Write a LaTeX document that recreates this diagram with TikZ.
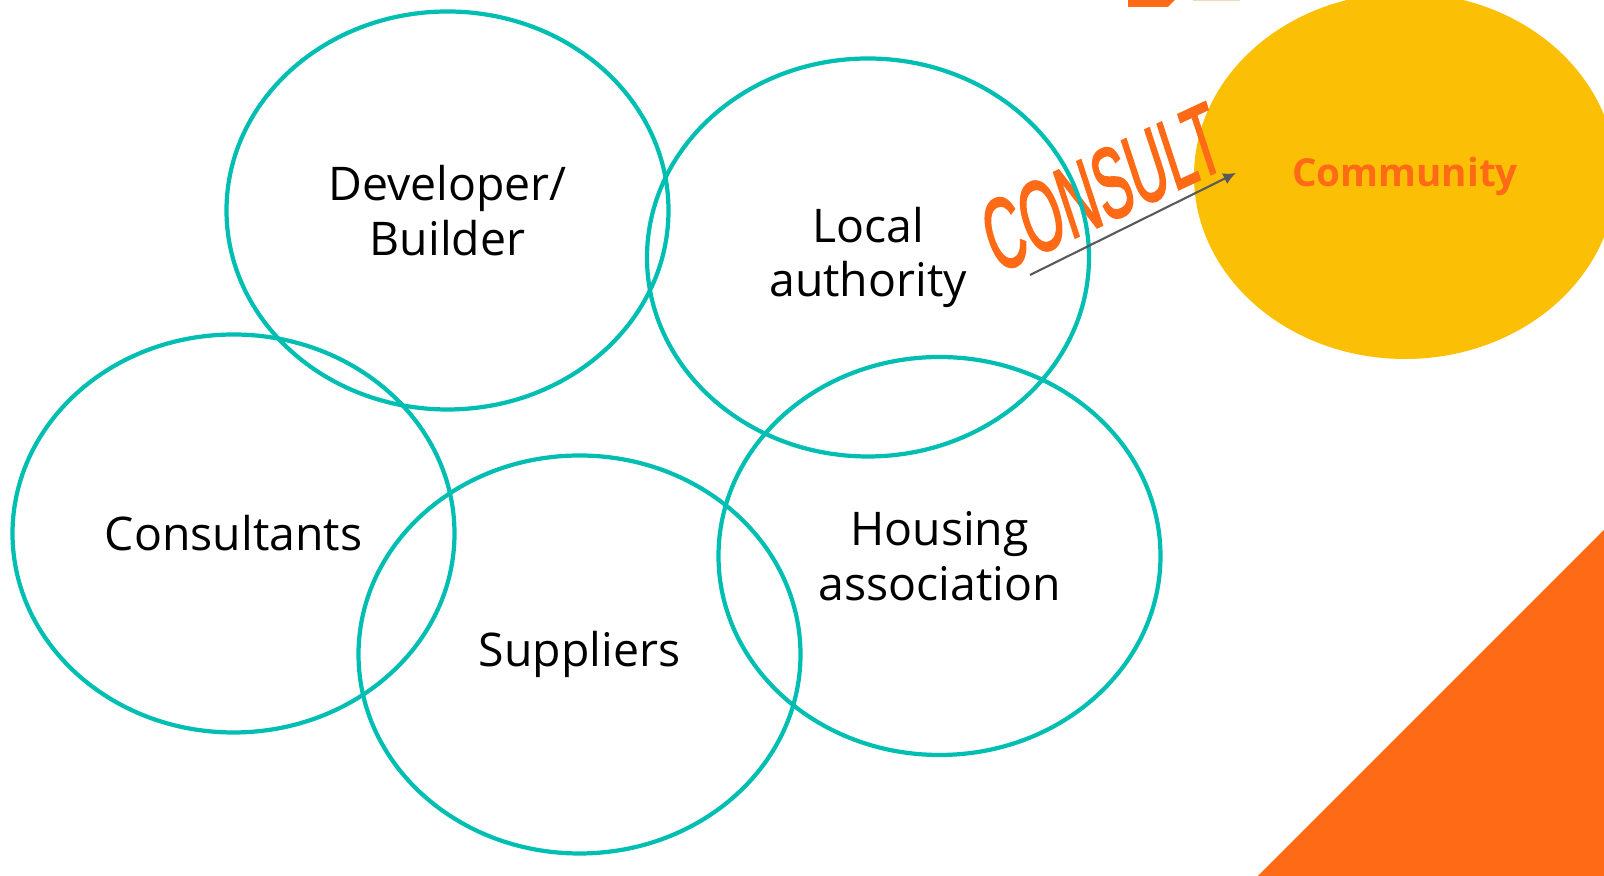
\documentclass[tikz,border=0pt]{standalone}
\usepackage{fontspec}
\setmainfont{Open Sans}
\newfontfamily\consultfont[FakeBold=2.5]{Liberation Sans}
\usetikzlibrary{positioning}
\usetikzlibrary{arrows.meta}
\usetikzlibrary{shapes}
\definecolor{tealline}{RGB}{0,190,178}
\definecolor{sunyellow}{RGB}{251,192,6}
\definecolor{flameorange}{RGB}{255,106,22}
\definecolor{arrowgray}{RGB}{90,90,90}
\definecolor{paleband}{RGB}{236,218,186}

\begin{document}
\begin{tikzpicture}[on grid,
      party style/.style={ellipse,draw=tealline,line width=1.2pt,
        minimum width=4.42cm,minimum height=3.98cm,inner sep=0pt,
        align=center,font=\fontsize{13.2}{15.6}\selectfont},
      crowd style/.style={ellipse,fill=sunyellow,minimum width=4.22cm,
        minimum height=3.66cm,inner sep=0pt,text=flameorange,
        font=\fontsize{11}{13}\selectfont\bfseries}
      ]
      \useasboundingbox (0,0) rectangle (16.04,-8.76);
      \clip (0,0) rectangle (16.04,-8.76);

      % corner pieces
      \fill[flameorange] (12.58,-8.76) -- (16.04,-5.30) -- (16.04,-8.76) -- cycle;
      \fill[flameorange] (11.28,0.01) -- (11.76,0.01) -- (11.68,-0.07) -- (11.28,-0.07) -- cycle;
      \fill[paleband] (11.93,0.01) rectangle (12.40,-0.015);

      \node[crowd style] (comm) at (14.05,-1.76) {Community};

      \node[text=flameorange,font=\consultfont\fontsize{28}{28}\selectfont,
        inner sep=0pt,anchor=base west,rotate=25,xslant=0.12,xscale=0.55]
        (consult) at (9.97,-2.74) {CONSULT};

      \node[party style] (dev) at (4.475,-2.105) {Developer/\\Builder};
      \node[party style,below right=0.47cm and 4.205cm of dev] (la) {Local\\authority};
      \node[party style,below right=2.985cm and 0.715cm of la] (hous) {Housing\\association};
      \node[party style,below left=0.985cm and 3.6cm of hous] (sup) {Suppliers};
      \node[party style,below left=3.23cm and 2.14cm of dev] (cons) {Consultants};

      \coordinate (ask from) at (10.30,-2.75);
      \coordinate (ask to) at (12.36,-1.73);
      \draw[arrowgray,line width=0.6pt,-{Latex[length=3.6pt,width=3.4pt]}] (ask from) -- (ask to);

    \end{tikzpicture}
\end{document}
